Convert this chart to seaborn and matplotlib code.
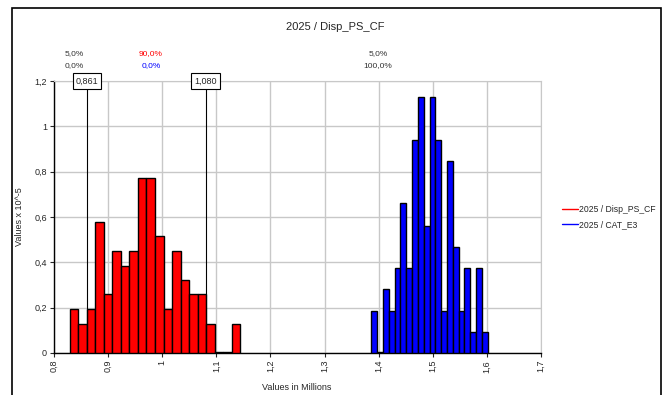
import numpy as np
import pandas as pd
import seaborn as sns
import matplotlib
matplotlib.use("Agg")
import matplotlib.pyplot as plt
from matplotlib.lines import Line2D
from matplotlib.patches import Rectangle
from matplotlib.ticker import FuncFormatter, MultipleLocator

sns.set_style("white")
plt.rcParams['font.family'] = ['Liberation Sans', 'DejaVu Sans']

# histogram data (values in millions, density x 10^-5)
red_start = 0.829
red_width = 0.01577
red_heights = [0.195, 0.13, 0.195, 0.58, 0.26, 0.45, 0.385, 0.45, 0.77, 0.77,
               0.515, 0.195, 0.45, 0.32, 0.26, 0.26, 0.13, 0.004, 0.004, 0.13]

blue_start = 1.3865
blue_width = 0.01075
blue_heights = [0.187, 0.004, 0.283, 0.187, 0.377, 0.661, 0.377, 0.94, 1.129, 0.562,
                1.129, 0.94, 0.187, 0.848, 0.469, 0.187, 0.377, 0.093, 0.377, 0.093]

markers = [0.861, 1.080]
marker_labels = ["0,861", "1,080"]
pct_top = ["5,0%", "90,0%", "5,0%"]
pct_bottom = ["0,0%", "0,0%", "100,0%"]
pct_top_colors = ["#333333", "red", "#333333"]
pct_bottom_colors = ["#333333", "blue", "#333333"]
pct_x = [0.837, 0.979, 1.399]

series_names = ["2025 / Disp_PS_CF", "2025 / CAT_E3"]

fig = plt.figure(figsize=(6.7, 3.95), dpi=100)
ax = fig.add_axes([54 / 670, 1 - 353 / 395, (541 - 54) / 670, (353 - 81) / 395])

def hist(start, width, heights, color):
    edges = [start + width * i for i in range(len(heights) + 1)]
    df = pd.DataFrame({"x": [(edges[i] + edges[i + 1]) / 2 for i in range(len(heights))],
                       "h": heights})
    sns.histplot(data=df, x="x", weights="h", bins=edges, ax=ax, color=color,
                 edgecolor="black", linewidth=1.0, alpha=1, zorder=3)

hist(red_start, red_width, red_heights, "red")
hist(blue_start, blue_width, blue_heights, "blue")

ax.set_xlim(0.8, 1.7)
ax.set_ylim(0, 1.2)
ax.xaxis.set_major_locator(MultipleLocator(0.1))
ax.yaxis.set_major_locator(MultipleLocator(0.2))
fmt = FuncFormatter(lambda v, p: ("%g" % round(v, 2)).replace(".", ","))
ax.xaxis.set_major_formatter(fmt)
ax.yaxis.set_major_formatter(fmt)
ax.tick_params(axis="x", labelsize=6.5, rotation=90, length=3, width=0.8, pad=2,
               bottom=True, direction="out")
ax.tick_params(axis="y", labelsize=6.5, length=3, width=0.8, pad=2, left=True,
               direction="out")
ax.grid(True, color="#c8c8c8", linewidth=1, zorder=0)
ax.set_axisbelow(True)
for s in ["top", "right"]:
    ax.spines[s].set_color("#c8c8c8")
for s in ["left", "bottom"]:
    ax.spines[s].set_color("black")
    ax.spines[s].set_linewidth(1.0)
ax.set_xlabel("")
ax.set_ylabel("Values x 10^-5", fontsize=6.5)
ax.yaxis.set_label_coords((24 - 54) / 487, 0.5)
fig.text(297 / 670, 1 - 388 / 395, "Values in Millions", ha="center", va="center", fontsize=6.5)

for m, lab in zip(markers, marker_labels):
    ax.axvline(m, color="black", linewidth=0.8, zorder=4)
    ax.text(m, 1.2, lab, ha="center", va="center", fontsize=6.5, zorder=6,
            bbox=dict(boxstyle="square,pad=0.35", fc="white", ec="black", lw=0.8))

for x, t1, t2, c1, c2 in zip(pct_x, pct_top, pct_bottom, pct_top_colors, pct_bottom_colors):
    ax.text(x, 1.2 + 27 / 272 * 1.2, t1, ha="center", va="center", fontsize=6, color=c1)
    ax.text(x, 1.2 + 15 / 272 * 1.2, t2, ha="center", va="center", fontsize=6, color=c2)

fig.text(335 / 670, 1 - 27 / 395, "2025 / Disp_PS_CF", ha="center", va="center", fontsize=8)

handles = [Line2D([], [], color="red", lw=1), Line2D([], [], color="blue", lw=1)]
fig.legend(handles, series_names, loc="center left", bbox_to_anchor=(556 / 670, 1 - 217 / 395),
           frameon=False, fontsize=6.2, handlelength=1.8, handletextpad=0.2, labelspacing=0.8,
           borderpad=0.2)

fig.patches.append(Rectangle((12 / 670, -0.02), (661 - 12) / 670, (395 - 8) / 395 + 0.02,
                             transform=fig.transFigure, fill=False, ec="black", lw=1.2))

fig.savefig("out.png", dpi=100)
